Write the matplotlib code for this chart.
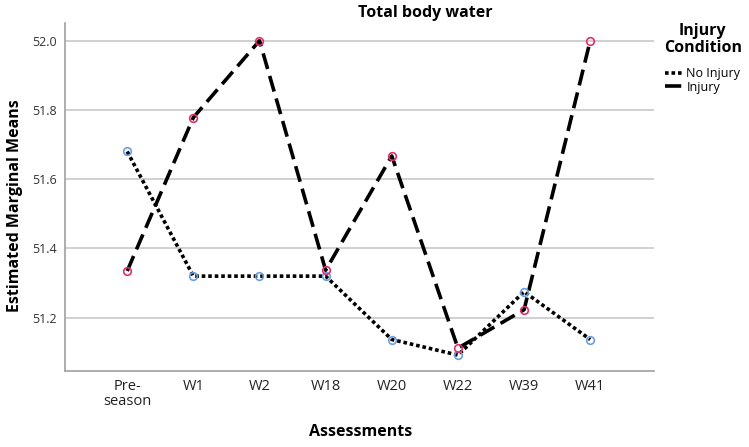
import numpy as np
import matplotlib.pyplot as plt
from matplotlib.lines import Line2D

# Data
assessments = ['Pre-\nseason', 'W1', 'W2', 'W18', 'W20', 'W22', 'W39', 'W41']
no_injury = [51.68, 51.32, 51.32, 51.32, 51.137, 51.092, 51.275, 51.137]
injury = [51.335, 51.778, 52.0, 51.337, 51.667, 51.112, 51.223, 52.0]
yticks = [51.2, 51.4, 51.6, 51.8, 52.0]

plt.rcParams['font.family'] = ['Open Sans', 'DejaVu Sans']

fig = plt.figure(figsize=(7.49, 4.47), dpi=100)
ax = fig.add_axes([0.0868, 0.170, 0.786, 0.7785])

x = np.arange(len(assessments))
ax.plot(x, no_injury, color='black', lw=2.6, ls=(0, (1, 0.8)), zorder=3)
ax.plot(x, injury, color='black', lw=2.6, ls=(0, (4.5, 2)), zorder=3)
ax.plot(x, no_injury, ls='none', marker='o', ms=5.5, mfc='none', mec='#6a9fe0', mew=1.2, zorder=4)
ax.plot(x, injury, ls='none', marker='o', ms=5.5, mfc='none', mec='#e0306a', mew=1.2, zorder=4)

ax.set_xlim(-0.94, 7.96)
ax.set_ylim(51.046, 52.051)
ax.set_xticks(x)
ax.set_xticklabels(assessments, fontsize=10.5, color='#222222', linespacing=1.0)
ax.set_yticks(yticks)
ax.set_yticklabels([f'{v:.1f}' for v in yticks], fontsize=9, color='#333333')
ax.tick_params(length=0, pad=6)
ax.grid(axis='y', color='#c8c8c8', lw=1.2)
ax.set_axisbelow(True)
for s in ['top', 'right']:
    ax.spines[s].set_visible(False)
for s in ['left', 'bottom']:
    ax.spines[s].set_color('#a0a0a0')
    ax.spines[s].set_linewidth(1.2)

# axis labels and title placed on the figure
fig.text(0.481, 0.033, 'Assessments', fontsize=11.5, fontweight='bold', ha='center', va='center')
fig.text(0.020, 0.54, 'Estimated Marginal Means', fontsize=11.5, fontweight='bold',
         ha='center', va='center', rotation=90)
fig.text(0.568, 0.972, 'Total body water', fontsize=11.5, fontweight='bold', ha='center', va='center')

handles = [Line2D([], [], color='black', lw=2.6, ls=(0, (1, 0.8))),
           Line2D([], [], color='black', lw=2.6, ls=(0, (4.5, 2)))]
leg = fig.legend(handles, ['No Injury', 'Injury'], loc='upper left',
                 bbox_to_anchor=(0.878, 0.962), frameon=False, fontsize=9,
                 title='Injury\nCondition', handlelength=1.4, handletextpad=0.3,
                 labelspacing=0.05, borderpad=0)
title = leg.get_title()
title.set_fontweight('bold')
title.set_fontsize(11.5)
title.set_linespacing(1.05)
title.set_multialignment('center')
leg._legend_box.align = 'center'
leg._legend_box.sep = 8

fig.savefig('out.png', dpi=100)
